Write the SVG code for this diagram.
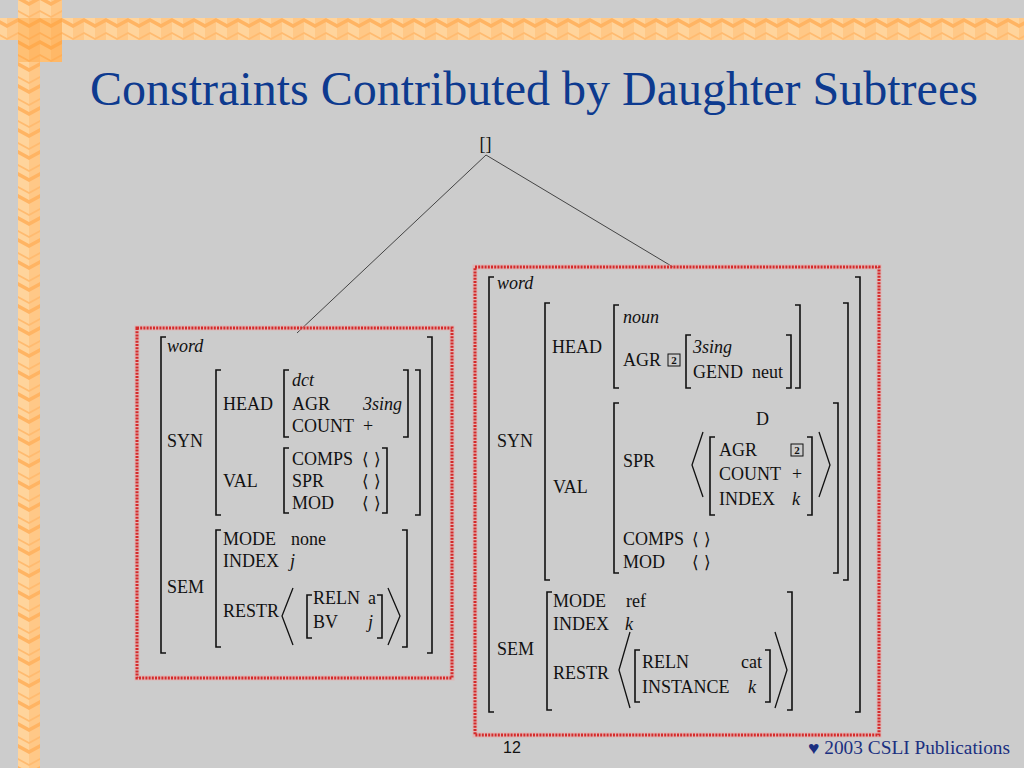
<svg xmlns="http://www.w3.org/2000/svg" width="1024" height="768" viewBox="0 0 1024 768">
<style>
.f{font-family:"Liberation Serif","Times New Roman",serif;font-size:18px;fill:#111}
.i{font-style:italic}
.b{fill:none;stroke:#111;stroke-width:1.6}
.ang{fill:none;stroke:#111;stroke-width:1.3}
.tag{fill:none;stroke:#111;stroke-width:1}
.tg{font-family:"Liberation Serif",serif;font-size:11px;font-weight:bold;fill:#111;text-anchor:middle}
.box{fill:none;stroke:#d42a2a;stroke-width:3;stroke-dasharray:2 1.2}
.halo{fill:none;stroke:#f0a0a0;stroke-width:5;opacity:0.5}
.edge{stroke:#444;stroke-width:1;fill:none}
.lst{font-family:"DejaVu Serif","DejaVu Sans",serif;font-size:17px;fill:#111}
.ttl{font-family:"Liberation Serif","Times New Roman",serif;font-size:48px;fill:#0d3a8f}
.foot{font-family:"Liberation Serif","Times New Roman",serif;font-size:18px;fill:#1a2f80}
.num{font-family:"Liberation Sans",Arial,sans-serif;font-size:16px;fill:#111}
</style>
<defs>
<pattern id="cubes" x="18" y="18" width="22" height="22" patternUnits="userSpaceOnUse">
<rect width="22" height="22" fill="#ffc887"/>
<rect width="11" height="22" fill="#ffd49c"/>
<polygon points="0,0 11,6 22,0 22,4 11,10 0,4" fill="#ffb463"/>
<polygon points="0,14 11,20 22,14 22,16 11,22 0,16" fill="#ffbb70"/>
</pattern>
</defs>
<rect width="1024" height="768" fill="#cccccc"/>
<g id="border">
<rect x="18" y="0" width="22" height="768" fill="url(#cubes)"/>
<rect x="0" y="18" width="1024" height="22" fill="url(#cubes)"/>
<rect x="18" y="0" width="44" height="62" fill="url(#cubes)"/>
<rect x="18" y="18" width="44" height="44" fill="#ff9a2a" opacity="0.35"/>
</g>
<text class="ttl" x="90" y="105">Constraints Contributed by Daughter Subtrees</text>

<g id="connectors">
<line class="edge" x1="486" y1="155" x2="297" y2="333"/>
<line class="edge" x1="486" y1="155" x2="673" y2="267"/>
</g>

<g id="root">
<text x="485.5" y="150" class="f" font-size="16" text-anchor="middle">[]</text>
</g>

<g id="left-avm">
<rect class="halo" x="137" y="328" width="315" height="350"/>
<rect class="box" x="137" y="328" width="315" height="350"/>
<path class="b" d="M166 337H161V653H166 M427 337H432V653H427"/>
<path class="b" d="M221 370H216V515H221 M415 370H420V515H415"/>
<path class="b" d="M289 370H284V437H289 M403 370H408V437H403"/>
<path class="b" d="M289 448H284V513H289 M382 448H387V513H382"/>
<path class="b" d="M221 530H216V647H221 M402 530H407V647H402"/>
<path class="b" d="M312 595H307V638H312 M377 595H382V638H377"/>
<path class="ang" d="M293 588L282 616L293 645 M388 588L400 616L388 645"/>
<text class="f i" x="167" y="352">word</text>
<text class="f" x="167" y="447">SYN</text>
<text class="f" x="223" y="410">HEAD</text>
<text class="f i" x="292" y="386">dct</text>
<text class="f" x="292" y="410">AGR</text>
<text class="f i" x="363" y="410">3sing</text>
<text class="f" x="292" y="432">COUNT</text>
<text class="f" x="363" y="432">+</text>
<text class="f" x="223" y="487">VAL</text>
<text class="f" x="292" y="465">COMPS</text>
<text class="lst" x="362" y="465">⟨ ⟩</text>
<text class="f" x="292" y="487">SPR</text>
<text class="lst" x="362" y="487">⟨ ⟩</text>
<text class="f" x="292" y="509">MOD</text>
<text class="lst" x="362" y="509">⟨ ⟩</text>
<text class="f" x="167" y="593">SEM</text>
<text class="f" x="223" y="545">MODE</text>
<text class="f" x="291" y="545">none</text>
<text class="f" x="223" y="567">INDEX</text>
<text class="f i" x="290" y="567">j</text>
<text class="f" x="223" y="617">RESTR</text>
<text class="f" x="313" y="604">RELN</text>
<text class="f" x="368" y="604">a</text>
<text class="f" x="313" y="628">BV</text>
<text class="f i" x="368" y="628">j</text>
</g>

<g id="right-avm">
<rect class="halo" x="475" y="267" width="404" height="468"/>
<rect class="box" x="475" y="267" width="404" height="468"/>
<path class="b" d="M494 277H489V712H494 M855 277H860V712H855"/>
<path class="b" d="M550 303H545V580H550 M843 303H848V580H843"/>
<path class="b" d="M619 305H614V388H619 M795 305H800V388H795"/>
<path class="b" d="M691 335H686V388H691 M786 335H791V388H786"/>
<path class="b" d="M619 403H614V573H619 M833 403H838V573H833"/>
<path class="b" d="M715 437H710V515H715 M807 437H812V515H807"/>
<path class="b" d="M552 592H547V710H552 M787 592H792V710H787"/>
<path class="b" d="M640 650H635V702H640 M765 650H770V702H765"/>
<path class="ang" d="M703 432L692 465L703 497 M819 432L830 465L819 497"/>
<path class="ang" d="M630 632L619 670L630 708 M775 632L787 670L775 708"/>
<text class="f i" x="497" y="289">word</text>
<text class="f" x="497" y="447">SYN</text>
<text class="f" x="552" y="353">HEAD</text>
<text class="f i" x="623" y="323">noun</text>
<text class="f" x="623" y="366">AGR</text>
<rect class="tag" x="668" y="354" width="12" height="12"/>
<text class="tg" x="674" y="364">2</text>
<text class="f i" x="693" y="353">3sing</text>
<text class="f" x="693" y="378">GEND</text>
<text class="f" x="752" y="378">neut</text>
<text class="f" x="553" y="493">VAL</text>
<text class="f" x="623" y="467">SPR</text>
<text class="f" x="756" y="425">D</text>
<text class="f" x="719" y="456">AGR</text>
<rect class="tag" x="791" y="444" width="12" height="12"/>
<text class="tg" x="797" y="454">2</text>
<text class="f" x="719" y="480">COUNT</text>
<text class="f" x="792" y="480">+</text>
<text class="f" x="719" y="505">INDEX</text>
<text class="f i" x="792" y="505">k</text>
<text class="f" x="623" y="545">COMPS</text>
<text class="lst" x="692" y="545">⟨ ⟩</text>
<text class="f" x="623" y="568">MOD</text>
<text class="lst" x="692" y="568">⟨ ⟩</text>
<text class="f" x="497" y="655">SEM</text>
<text class="f" x="553" y="607">MODE</text>
<text class="f" x="626" y="607">ref</text>
<text class="f" x="553" y="630">INDEX</text>
<text class="f i" x="625" y="630">k</text>
<text class="f" x="553" y="679">RESTR</text>
<text class="f" x="642" y="668">RELN</text>
<text class="f" x="741" y="668">cat</text>
<text class="f" x="642" y="693">INSTANCE</text>
<text class="f i" x="748" y="693">k</text>
</g>

<g id="footer">
<text class="num" x="503" y="753">12</text>
<text class="foot" x="808" y="754" textLength="202" lengthAdjust="spacingAndGlyphs">♥ 2003 CSLI Publications</text>
</g>
</svg>
